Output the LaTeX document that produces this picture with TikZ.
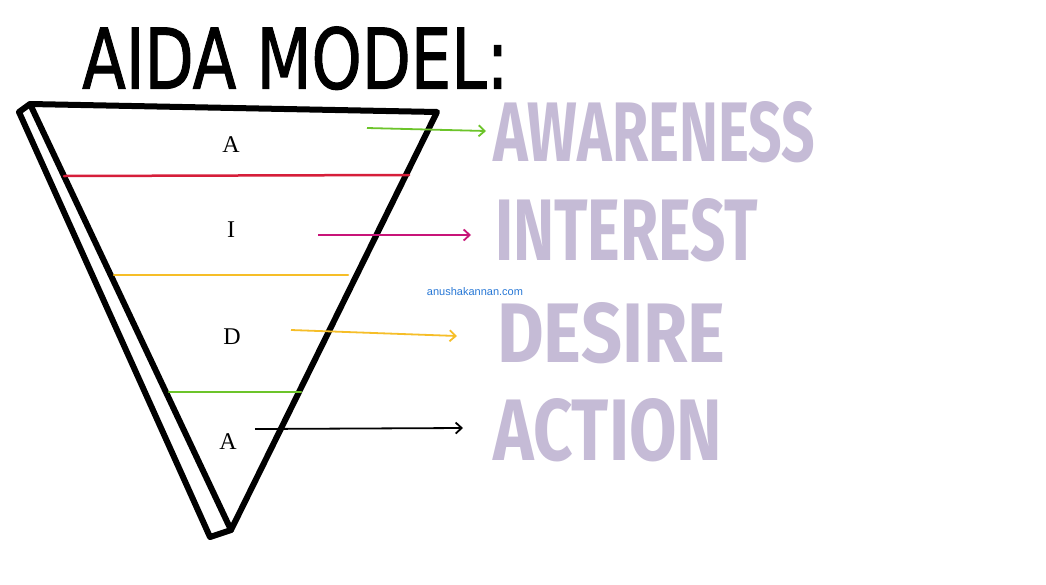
\documentclass[tikz,border=0pt]{standalone}
\usepackage{fontspec}
\usepackage{graphicx}
\usetikzlibrary{arrows.meta}
\setmainfont{Liberation Serif}
\newfontfamily\titlefont{DejaVu Sans}[FakeBold=1.5]
\newfontfamily\handfont{Fira Sans}
\newfontfamily\markfont{Liberation Sans}
\definecolor{lblpurple}{RGB}{197,187,214}
\definecolor{lgreen}{RGB}{108,196,42}
\definecolor{lred}{RGB}{214,30,58}
\definecolor{lyellow}{RGB}{246,190,40}
\definecolor{lmagenta}{RGB}{200,20,120}
\definecolor{lblue}{RGB}{40,120,214}
\tikzset{
  funnelline/.style={line width=6pt, line cap=round, line join=round},
  divider/.style={line width=2.5pt, line cap=round},
  pointer/.style={line width=1.8pt, -{Straight Barb[length=6pt,width=11pt,line width=1.8pt]}},
  letter/.style={font=\fontsize{24}{24}\selectfont, inner sep=0pt},
  stagelabel/.style={text=lblpurple, inner sep=0pt, anchor=south west, font=\handfont\bfseries},
}
\begin{document}
\begin{tikzpicture}[x=1pt,y=-1pt]
\useasboundingbox (0,0) rectangle (1046,584);
\fill[white] (0,0) rectangle (1046,584);
% title
\node[inner sep=0pt, anchor=south west] (title) at (82,90)
  {\resizebox{426pt}{62pt}{\titlefont AIDA MODEL:}};
% funnel
\coordinate (tl) at (30,104);
\coordinate (tr) at (437,112);
\coordinate (apex) at (231,530);
\coordinate (ol) at (19,112);
\coordinate (ob) at (210,537);
\draw[funnelline] (apex) -- (tl) -- (tr) -- (apex);
\draw[funnelline] (tl) -- (ol) -- (ob) -- (apex);
% dividers
\coordinate (r1) at (64,176); \coordinate (r2) at (409,175);
\coordinate (y1) at (114,275); \coordinate (y2) at (348,275);
\coordinate (g1) at (169,392); \coordinate (g2) at (301,392);
\draw[divider, lred] (r1) -- (r2);
\draw[divider, lyellow] (y1) -- (y2);
\draw[divider, lgreen] (g1) -- (g2);
% letters
\node[letter] (la) at (231,145) {A};
\node[letter] (li) at (231,230) {I};
\node[letter] (ld) at (232,337) {D};
\node[letter] (lac) at (228,442) {A};
% labels
\node[stagelabel] (aw) at (493,163) {\resizebox{322pt}{60pt}{AWARENESS}};
\node[stagelabel] (in) at (495,262) {\resizebox{263pt}{62pt}{INTEREST}};
\node[stagelabel] (de) at (497,364) {\resizebox{228pt}{60pt}{DESIRE}};
\node[stagelabel] (ac) at (493,462) {\resizebox{229pt}{62pt}{ACTION}};
% arrows
\coordinate (a1s) at (367,128); \coordinate (a1e) at (486,131);
\coordinate (a2s) at (318,235); \coordinate (a2e) at (471,235);
\coordinate (a3s) at (291,330); \coordinate (a3e) at (457,336);
\coordinate (a4s) at (255,429); \coordinate (a4e) at (463,428);
\draw[pointer, lgreen] (a1s) -- (a1e);
\draw[pointer, lmagenta] (a2s) -- (a2e);
\draw[pointer, lyellow] (a3s) -- (a3e);
\draw[pointer, black] (a4s) -- (a4e);
% watermark
\node[text=lblue, font=\markfont\fontsize{11}{11}\selectfont, inner sep=0pt] (wm) at (475,292) {anushakannan.com};
\end{tikzpicture}
\end{document}
